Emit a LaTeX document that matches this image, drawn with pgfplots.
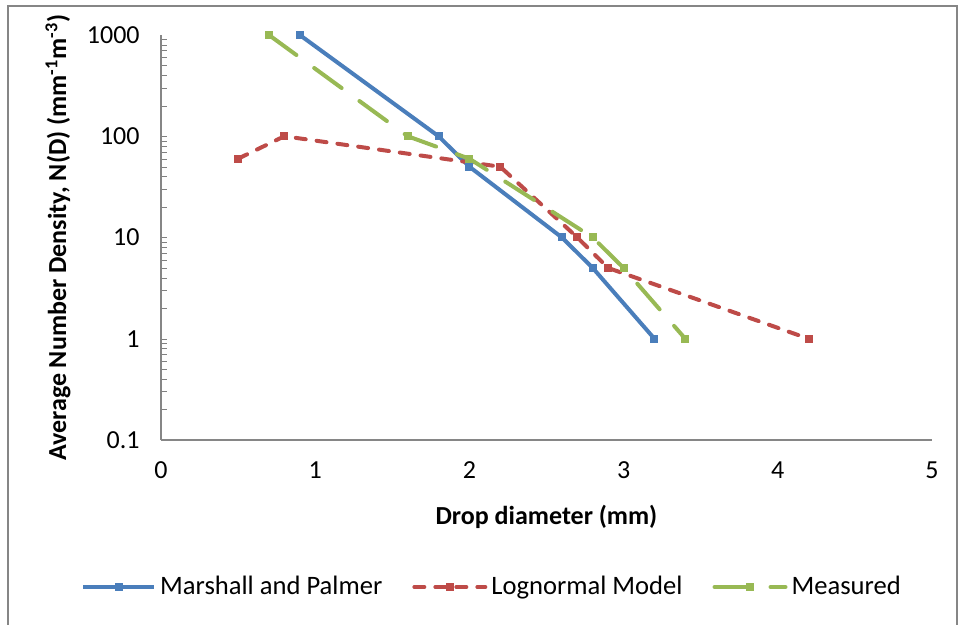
\documentclass[border=0pt]{standalone}
\usepackage{pgfplots}
\pgfplotsset{compat=1.18}
\usepackage{fontspec}
\setmainfont{Carlito}
\definecolor{mpblue}{HTML}{4A7EBB}
\definecolor{lnred}{HTML}{BE4B48}
\definecolor{msgreen}{HTML}{98B954}
\definecolor{axgray}{HTML}{868686}
\begin{document}
\fontsize{13pt}{15.6pt}\selectfont
\begin{tikzpicture}
\useasboundingbox (-80.5pt,-92.5pt) rectangle (398.5pt,220pt);
\begin{axis}[
  at={(0,0)}, anchor=south west,
  scale only axis,
  width=385.5pt, height=202.5pt,
  xmin=0, xmax=5, ymin=0.1, ymax=1000,
  ymode=log,
  clip=false,
  axis lines*=left,
  axis line style={draw=axgray, line width=1pt},
  major tick length=0pt,
  xtick={0,1,2,3,4,5},
  xticklabels={0,1,2,3,4,5},
  ytick={0.1,1,10,100,1000},
  yticklabels={0.1,1,10,100,1000},
  xticklabel style={anchor=north, inner sep=0pt, yshift=-10.5pt, font=\fontsize{13pt}{15.6pt}\selectfont},
  yticklabel style={anchor=east, inner sep=0pt, xshift=-10.5pt, font=\fontsize{13pt}{15.6pt}\selectfont},
  xlabel={\textbf{Drop diameter (mm)}},
  ylabel={\textbf{Average Number Density, N(D) (mm\textsuperscript{-1}m\textsuperscript{-3})}},
  xlabel style={at={(axis description cs:0.5,-0.19)}, anchor=center, font=\fontsize{13pt}{15.6pt}\selectfont},
  ylabel style={at={(axis description cs:-0.1336,0.5)}, anchor=center, rotate=0, font=\fontsize{13pt}{15.6pt}\selectfont},
  legend columns=-1,
  legend style={draw=none, fill=none, at={(axis description cs:0.4306,-0.363)}, anchor=center,
    font=\fontsize{13.3pt}{15.6pt}\selectfont,
    /tikz/every even column/.append style={column sep=13pt}},
  legend image code/.code={\draw[mark repeat=2,mark phase=2,#1] plot coordinates {(0pt,0pt) (17.75pt,0pt) (35.5pt,0pt)};},
]
\addplot[mpblue, line width=2pt, mark=square*, mark size=1pt, mark options={solid}]
  coordinates {(0.9,1000) (1.8,100) (2.0,50) (2.6,10) (2.8,5) (3.2,1)};
\addlegendentry{Marshall and Palmer}
\addplot[lnred, line width=2pt, line cap=round, dash pattern=on 5pt off 5.5pt, mark=square*, mark size=1pt, mark options={solid}]
  coordinates {(0.5,60) (0.8,100) (2.2,50) (2.7,10) (2.9,5) (4.2,1)};
\addlegendentry{Lognormal Model}
\addplot[msgreen, line width=2pt, line cap=round, dash pattern=on 17pt off 11pt, mark=square*, mark size=1pt, mark options={solid}]
  coordinates {(0.7,1000) (1.6,100) (2.0,60) (2.8,10) (3.0,5) (3.4,1)};
\addlegendentry{Measured}
\end{axis}
\draw[axgray, line width=1pt] (-76.5pt,-93pt) -- (-76.5pt,217pt) -- (398pt,217pt) -- (398pt,-93pt);
\end{tikzpicture}
\end{document}
